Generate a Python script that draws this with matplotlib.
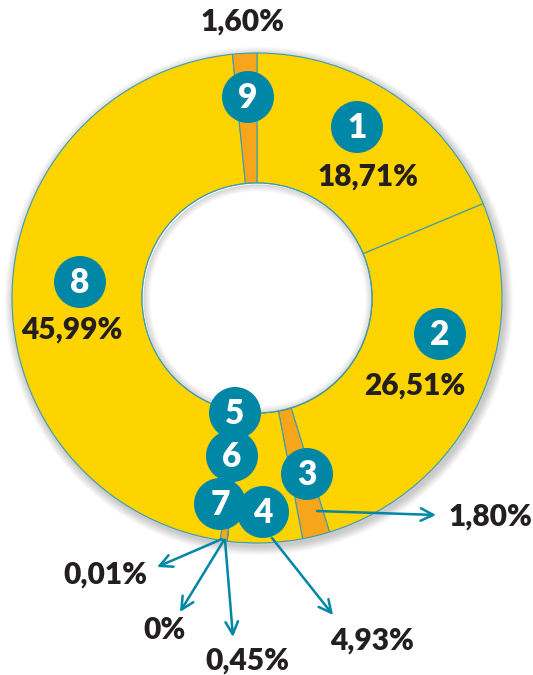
import matplotlib
matplotlib.use("Agg")
import matplotlib.pyplot as plt
from matplotlib.patches import Circle, Wedge
import numpy as np

# shares of the nine segments, clockwise from 12 o'clock
segment_ids = ["1", "2", "3", "4", "5", "6", "7", "8", "9"]
shares = [18.71, 26.51, 1.80, 4.93, 0.01, 0.00, 0.45, 45.99, 1.60]
share_labels = ["18,71%", "26,51%", "1,80%", "4,93%", "0,01%", "0%", "0,45%", "45,99%", "1,60%"]
is_orange = [False, False, True, False, True, False, True, False, True]

YELLOW = "#FDD300"
ORANGE = "#F7A61C"
TEAL = "#0087A5"
EDGE = "#3A9DB3"
TEXT = "#231F20"
FONT = ["Lato", "DejaVu Sans"]

W, H = 533, 675
fig = plt.figure(figsize=(W / 100, H / 100), dpi=100)
ax = fig.add_axes([0, 0, 1, 1])


def py(y):
    # picture rows run downwards
    return H - y


cx, cy = 257, py(298)
R_OUT, R_IN = 245, 115

# soft shadow around the ring
for k in range(1, 10):
    ax.add_patch(Circle((cx + 2, cy - 3), R_OUT + k, color="black",
                        alpha=0.022, lw=0, zorder=0))

colors = [ORANGE if o else YELLOW for o in is_orange]
wedges, _ = ax.pie(shares, colors=colors, startangle=90, counterclock=False,
                   center=(cx, cy), radius=R_OUT, frame=True,
                   wedgeprops=dict(width=R_OUT - R_IN, edgecolor=EDGE, linewidth=0.8))
for w in wedges:
    w.set_zorder(2)

# white hole with a faint inner shadow
ax.add_patch(Circle((cx, cy), R_IN - 0.4, color="white", lw=0, zorder=2.5))
for k in range(1, 8):
    ax.add_patch(Wedge((cx + 1, cy - 1), R_IN - 0.4, 0, 360, width=k,
                       color="black", alpha=0.022, lw=0, zorder=3))
ax.add_patch(Circle((cx, cy), R_IN, fill=False, ec=EDGE, lw=0.8, zorder=3.5))

ax.set_xlim(0, W)
ax.set_ylim(0, H)
ax.set_aspect("equal")
ax.axis("off")

# numbered badges (pixel layout)
badge_pos = {
    "1": (357, 127), "2": (440, 334), "3": (307, 474), "4": (263, 512),
    "5": (235, 413), "6": (232, 456), "7": (220, 504), "8": (80, 282),
    "9": (248, 97),
}
badge_order = ["1", "2", "8", "9", "5", "6", "3", "7", "4"]
for i, sid in enumerate(badge_order):
    x, y = badge_pos[sid]
    ax.add_patch(Circle((x, py(y)), 26, color=TEAL, ec="none", zorder=10 + i))
    ax.text(x, py(y) - 1, sid, color="white", fontsize=24, fontweight="heavy",
            family=FONT, ha="center", va="center", zorder=10 + i)

# labels placed inside the ring
inner_text = {"1": (368, 177), "2": (415, 386), "8": (72, 330)}
for sid, (x, y) in inner_text.items():
    ax.text(x, py(y), share_labels[segment_ids.index(sid)], color=TEXT,
            fontsize=21.5, fontweight="heavy", family=FONT,
            ha="center", va="center", zorder=30)

ax.text(243, py(22), share_labels[8], color=TEXT, fontsize=21.5,
        fontweight="heavy", family=FONT, ha="center", va="center", zorder=30)

# arrow callouts: (segment, start, arrow tip, text position)
callouts = [
    ("3", (317, 511), (436, 515), (490, 517)),
    ("4", (272, 538), (333, 615), (372, 641)),
    ("7", (225, 540), (233, 637), (247, 661)),
    ("6", (224, 540), (180, 612), (165, 630)),
    ("5", (222, 539), (157, 567), (105, 575)),
]
for sid, (x0, y0), (x1, y1), (tx, ty) in callouts:
    ax.annotate("", xy=(x1, py(y1)), xytext=(x0, py(y0)),
                arrowprops=dict(arrowstyle="->,head_length=0.9,head_width=0.45",
                                color=TEAL, lw=1.8, shrinkA=0, shrinkB=0),
                zorder=35)
    ax.text(tx, py(ty), share_labels[segment_ids.index(sid)], color=TEXT,
            fontsize=21.5, fontweight="heavy", family=FONT,
            ha="center", va="center", zorder=30)

fig.savefig("out.png", dpi=100, facecolor="white")
